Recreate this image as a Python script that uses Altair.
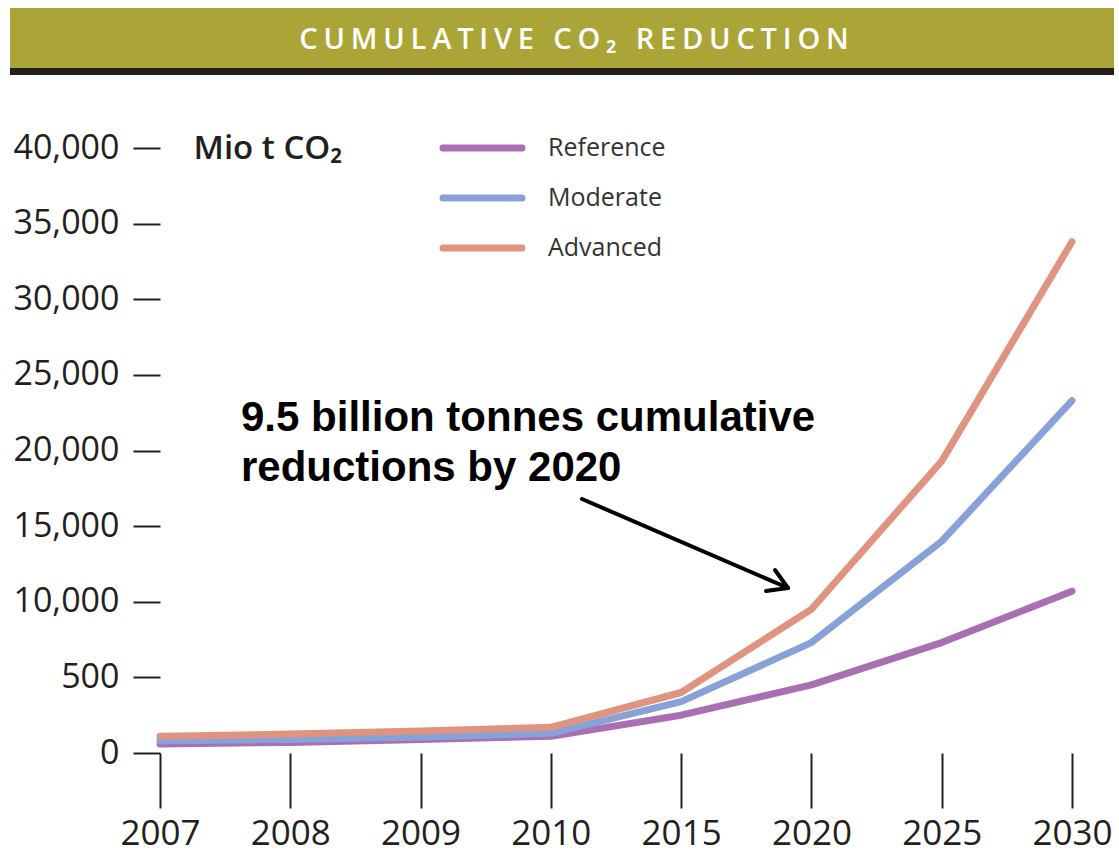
import altair as alt
import pandas as pd

# Cumulative CO2 reduction, million tonnes, per scenario
years = ["2007", "2008", "2009", "2010", "2015", "2020", "2025", "2030"]
reference = [600, 700, 900, 1100, 2500, 4500, 7300, 10700]
moderate = [800, 900, 1050, 1300, 3400, 7300, 14000, 23300]
advanced = [1100, 1250, 1450, 1700, 4000, 9500, 19300, 33800]

scenarios = ["Reference", "Moderate", "Advanced"]
colors = ["#a96fb2", "#86a2d8", "#e0937f"]

y_ticks = [0, 5000, 10000, 15000, 20000, 25000, 30000, 35000, 40000]

header_text = "CUMULATIVE CO₂ REDUCTION"
note_text = "9.5 billion tonnes cumulative\nreductions by 2020"

rows = []
for name, vals in zip(scenarios, [reference, moderate, advanced]):
    for i, (yr, v) in enumerate(zip(years, vals)):
        rows.append({"year": yr, "value": v, "scenario": name, "order": i})
df = pd.DataFrame(rows)

legend_df = pd.DataFrame({
    "scenario": scenarios,
    "row": [i * 50 for i in range(len(scenarios))],
})

FONT = "Open Sans"
INK = "#231f20"

color_scale = alt.Scale(domain=scenarios, range=colors)

lines = alt.Chart(df).mark_line(
    strokeWidth=7, strokeCap="round", strokeJoin="round"
).encode(
    x=alt.X(
        "year:O",
        sort=years,
        scale=alt.Scale(type="point", padding=0),
        axis=alt.Axis(
            title=None, labelAngle=0, domain=False, ticks=True,
            tickSize=55, tickWidth=2, tickColor=INK,
            labelFont=FONT, labelFontSize=35, labelColor=INK,
            labelPadding=8, labelBaseline="top",
        ),
    ),
    y=alt.Y(
        "value:Q",
        scale=alt.Scale(domain=[0, 40000], nice=False),
        axis=alt.Axis(
            values=y_ticks, grid=False, domain=False,
            tickSize=27, tickWidth=2, tickColor=INK,
            labelFont=FONT, labelFontSize=34, labelColor=INK, labelPadding=14,
            labelExpr="datum.value == 5000 ? '500' : format(datum.value, ',')",
            title="Mio t CO₂", titleAngle=0, titleAlign="left",
            titleBaseline="middle", titleX=33, titleY=0,
            titleFont=FONT, titleFontSize=33, titleFontWeight=600, titleColor=INK,
        ),
    ),
    color=alt.Color("scenario:N", sort=scenarios, scale=color_scale, legend=None),
    order="order:Q",
    detail="scenario:N",
)

# key: coloured strokes with their scenario names
key_lines = alt.Chart(legend_df).mark_rule(strokeWidth=7, strokeCap="round").encode(
    x=alt.value(283), x2=alt.value(362),
    y=alt.Y("row:Q", scale=None),
    color=alt.Color("scenario:N", sort=scenarios, scale=color_scale, legend=None),
)
key_text = alt.Chart(legend_df).mark_text(
    font=FONT, fontSize=25, color="#333333", align="left", baseline="middle"
).encode(
    x=alt.value(388),
    y=alt.Y("row:Q", scale=None),
    text="scenario:N",
)

# header band
band = alt.Chart(pd.DataFrame({"k": [0]})).mark_rect(color="#aaa536").encode(
    x=alt.value(-150), x2=alt.value(954), y=alt.value(-140), y2=alt.value(-80)
)
band_rule = alt.Chart(pd.DataFrame({"k": [0]})).mark_rect(color=INK).encode(
    x=alt.value(-150), x2=alt.value(954), y=alt.value(-80), y2=alt.value(-73)
)
# tracked-out heading: hair spaces between letters
spaced_header = "\u200a\u200a".join(header_text)
header = alt.Chart(pd.DataFrame({"t": [spaced_header]})).mark_text(
    font=FONT, fontSize=29, fontWeight=600, color="white",
    align="center", baseline="middle",
).encode(text="t:N", x=alt.value(414), y=alt.value(-108))

# annotation
note = alt.Chart(pd.DataFrame({"t": [note_text]})).mark_text(
    font="Liberation Sans", fontSize=42, fontWeight="bold", color="black",
    align="left", baseline="alphabetic", lineBreak="\n", lineHeight=50,
).encode(text="t:N", x=alt.value(81), y=alt.value(283))

arrow_segments = pd.DataFrame({
    "x": [422, 628, 628], "y": [351, 440, 440],
    "x2": [628, 615, 606], "y2": [440, 422, 443],
})
arrow = alt.Chart(arrow_segments).mark_rule(
    color="black", strokeWidth=4, strokeCap="round"
).encode(
    x=alt.X("x:Q", scale=None), y=alt.Y("y:Q", scale=None),
    x2="x2:Q", y2="y2:Q",
)

chart = alt.layer(
    band, band_rule, header, lines, key_lines, key_text, note, arrow
).properties(
    width=912, height=605,
    autosize=alt.AutoSizeParams(type="none"),
    padding={"left": 160, "top": 148, "right": 47, "bottom": 103},
    background="white",
).configure_view(stroke=None)

chart.save("out.html", embed_options={"renderer": "svg", "actions": False})
